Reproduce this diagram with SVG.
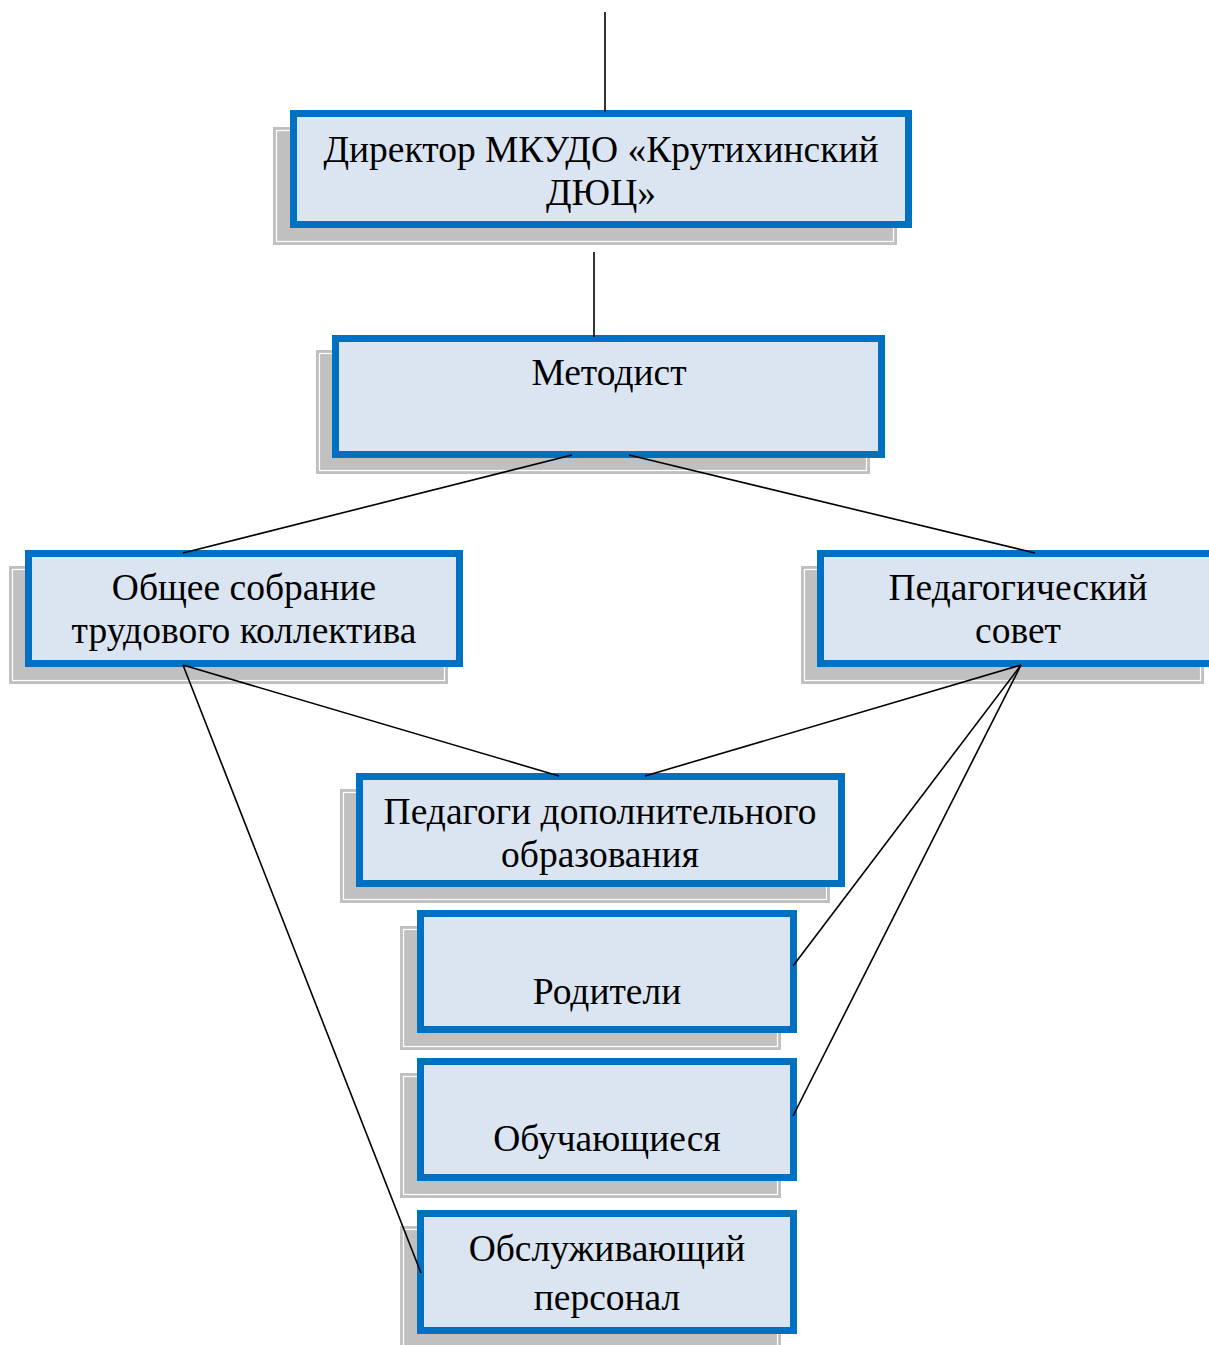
<svg xmlns="http://www.w3.org/2000/svg" width="1209" height="1345" viewBox="0 0 1209 1345">
<style>
.sh{fill:#C0C0C0;stroke:none}
.shl{fill:none;stroke:#FFFFFF;stroke-width:1.2}
.bx{fill:#DBE5F1;stroke:#0070C0;stroke-width:7}
.t{font-family:"Liberation Serif","DejaVu Serif",serif;font-size:37.5px;fill:#000;text-anchor:middle}
.c{stroke:#000;stroke-width:1.6;fill:none}
</style>
<rect width="1209" height="1345" fill="#FFFFFF"/>
<g id="director">
<rect class="sh" x="273" y="127" width="624" height="118"/>
<rect class="shl" x="276.5" y="130.5" width="617" height="111"/>
<rect class="bx" x="293.5" y="113.5" width="615" height="111"/>
<text class="t" x="601" y="162">Директор МКУДО «Крутихинский</text>
<text class="t" x="601" y="205">ДЮЦ»</text>
</g>
<g id="metodist">
<rect class="sh" x="316" y="350" width="554" height="124"/>
<rect class="shl" x="319.5" y="353.5" width="547" height="117"/>
<rect class="bx" x="335.5" y="338.5" width="546" height="116"/>
<text class="t" x="609" y="385">Методист</text>
</g>
<g id="sobranie">
<rect class="sh" x="9" y="566" width="439" height="118"/>
<rect class="shl" x="12.5" y="569.5" width="432" height="111"/>
<rect class="bx" x="28.5" y="553.5" width="431" height="110"/>
<text class="t" x="244" y="600">Общее собрание</text>
<text class="t" x="244" y="643">трудового коллектива</text>
</g>
<g id="pedsovet">
<rect class="sh" x="801" y="566" width="403" height="118"/>
<rect class="shl" x="804.5" y="569.5" width="396" height="111"/>
<rect class="bx" x="820.5" y="553.5" width="395" height="110"/>
<text class="t" x="1018" y="600">Педагогический</text>
<text class="t" x="1018" y="643">совет</text>
</g>
<g id="pedagogi">
<rect class="sh" x="340" y="789" width="490" height="114"/>
<rect class="shl" x="343.5" y="792.5" width="483" height="107"/>
<rect class="bx" x="359.5" y="776.5" width="482" height="107"/>
<text class="t" x="600" y="824">Педагоги дополнительного</text>
<text class="t" x="600" y="867">образования</text>
</g>
<g id="roditeli">
<rect class="sh" x="400" y="926" width="381" height="124"/>
<rect class="shl" x="403.5" y="929.5" width="374" height="117"/>
<rect class="bx" x="420.5" y="913.5" width="373" height="116"/>
<text class="t" x="607" y="1004">Родители</text>
</g>
<g id="obuchayushiesya">
<rect class="sh" x="400" y="1073" width="381" height="125"/>
<rect class="shl" x="403.5" y="1076.5" width="374" height="118"/>
<rect class="bx" x="420.5" y="1061.5" width="373" height="116"/>
<text class="t" x="607" y="1151">Обучающиеся</text>
</g>
<g id="personal">
<rect class="sh" x="400" y="1226" width="381" height="119"/>
<rect class="shl" x="403.5" y="1229.5" width="374" height="118"/>
<rect class="bx" x="420.5" y="1213.5" width="373" height="117"/>
<text class="t" x="607" y="1261">Обслуживающий</text>
<text class="t" x="607" y="1310">персонал</text>
</g>
<g id="connectors">
<line class="c" x1="605" y1="12" x2="605" y2="112"/>
<line class="c" x1="594" y1="252" x2="594" y2="337"/>
<line class="c" x1="572" y1="455" x2="183" y2="553"/>
<line class="c" x1="629" y1="455" x2="1035" y2="553"/>
<line class="c" x1="183" y1="665" x2="559" y2="776"/>
<line class="c" x1="183" y1="665" x2="421" y2="1273"/>
<line class="c" x1="1021" y1="665" x2="645" y2="776"/>
<line class="c" x1="1021" y1="665" x2="793" y2="966"/>
<line class="c" x1="1021" y1="665" x2="793" y2="1116"/>
</g>
</svg>
